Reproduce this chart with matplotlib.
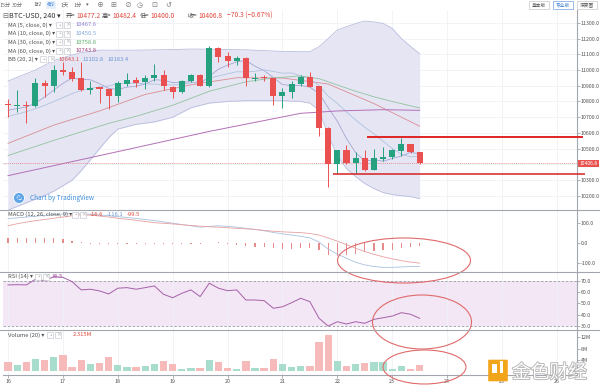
import numpy as np
import matplotlib.pyplot as plt
from matplotlib.patches import Rectangle, Ellipse, FancyBboxPatch, Circle
import matplotlib.patheffects as pe

plt.rcParams['font.family'] = ['Noto Sans CJK SC', 'DejaVu Sans']

# BTC-USD, 4h candles from the 16th 00:00 to the 23rd 20:00
days = ['16', '17', '18', '19', '20', '21', '22', '23', '24', '25', '26']
opens = [10785, 10772, 10780, 10774, 10916, 10900, 11002, 10985, 10948, 10870,
         10890, 10878, 10832, 10912, 10937, 10921, 10950, 10971, 10895, 10863,
         10927, 10971, 10901, 11140, 11086, 11055, 11075, 10944, 10958, 10948,
         10835, 10858, 10911, 10954, 10897, 10631, 10404, 10489, 10408, 10443,
         10368, 10436, 10447, 10485, 10527, 10477.2]
highs = [10816, 10873, 10801, 10948, 10937, 11030, 11050, 11020, 11050, 10927,
         10895, 10880, 10927, 10980, 10954, 10969, 11037, 10997, 10900, 10937,
         10975, 10975, 11155, 11148, 11113, 11086, 11080, 10980, 10969, 10952,
         10884, 10927, 10969, 10990, 10900, 10635, 10492, 10521, 10478, 10494,
         10500, 10510, 10500, 10567, 10530, 10482.4]
lows = [10699, 10736, 10661, 10765, 10831, 10863, 10968, 10930, 10865, 10848,
        10790, 10750, 10795, 10901, 10895, 10880, 10930, 10873, 10820, 10852,
        10925, 10898, 10895, 11050, 11018, 11032, 10901, 10930, 10927, 10778,
        10757, 10820, 10901, 10890, 10578, 10260, 10345, 10405, 10345, 10357,
        10362, 10425, 10436, 10451, 10470, 10400.0]
closes = [10775, 10778, 10772, 10916, 10900, 11000, 10985, 10945, 10870, 10888,
          10878, 10835, 10916, 10937, 10920, 10948, 10971, 10898, 10863, 10927,
          10971, 10901, 11140, 11085, 11058, 11075, 10948, 10952, 10948, 10835,
          10858, 10911, 10958, 10895, 10631, 10404, 10489, 10408, 10443, 10366,
          10443, 10447, 10489, 10527, 10477.2, 10406.8]
volume_m = [3.2, 2.3, 3.2, 4.3, 4.0, 5.2, 5.9, 1.7, 4.0, 2.7, 3.0, 4.9, 2.3, 1.4, 1.4,
            1.9, 2.7, 3.7, 2.7, 0.9, 1.3, 1.3, 4.0, 3.3, 1.2, 0.7, 3.7, 1.3, 1.3, 4.4,
            2.7, 1.7, 2.0, 2.0, 10.4, 12.7, 3.7, 2.0, 2.7, 3.1, 3.2, 3.4, 1.0, 2.0,
            1.0, 2.315]

ma5 = [10745, 10755, 10765, 10790, 10828, 10873, 10915, 10949, 10940, 10938,
       10913, 10883, 10877, 10891, 10897, 10911, 10938, 10935, 10920, 10921,
       10926, 10912, 10960, 11005, 11031, 11052, 11061, 11024, 10996, 10952,
       10908, 10901, 10902, 10891, 10851, 10760, 10675, 10565, 10475, 10422,
       10430, 10421, 10438, 10454, 10477, 10467.6]
ma10 = [10705, 10720, 10735, 10755, 10775, 10800, 10825, 10850, 10870, 10883,
        10893, 10899, 10913, 10915, 10917, 10912, 10911, 10906, 10905, 10909,
        10919, 10925, 10948, 10962, 10976, 10989, 10987, 10992, 11001, 10991,
        10980, 10981, 10963, 10944, 10901, 10834, 10788, 10734, 10683, 10636,
        10595, 10548, 10502, 10465, 10449, 10450.5]
ma30_x = [0, 5, 11, 14, 18, 22, 26, 29, 32, 34, 36, 38, 40, 42, 45]
ma30 = [10457, 10553, 10661, 10706, 10776, 10865, 10925, 10950, 10962, 10945,
        10905, 10865, 10830, 10800, 10758.8]
ma60_x = [0, 11, 22, 32, 36, 41, 45]
ma60 = [10329, 10469, 10610, 10725, 10740, 10748, 10743.8]

bb_mid_x = [0, 5, 10, 15, 20, 25, 30, 35, 40, 45]
bb_mid = [10534, 10650, 10740, 10845, 10906, 10951, 10949, 10911, 10787, 10643.1]
bb_x = [0, 3, 5, 7, 8, 9, 10, 11, 12, 14, 16, 18, 20, 22, 24, 26, 30, 32, 33, 34,
        35, 36, 37, 38, 39, 40, 41, 42, 43, 44, 45]
bb_up = [10930, 11000, 11060, 11095, 11110, 11118, 11126, 11126, 11126, 11126,
         11128, 11130, 11133, 11132, 11130, 11128, 11118, 11116, 11116, 11148,
         11200, 11254, 11275, 11295, 11311, 11305, 11296, 11264, 11200, 11150, 11102.8]
bb_lo = [10110, 10180, 10230, 10300, 10360, 10430, 10500, 10570, 10625, 10655,
         10670, 10700, 10760, 10790, 10800, 10805, 10805, 10800, 10790, 10744,
         10585, 10457, 10374, 10323, 10279, 10247, 10222, 10209, 10202, 10196, 10183.4]

macd = [120, 124, 128, 132, 136, 140, 143, 145, 144, 142, 138, 134, 130, 126, 121,
        116, 110, 104, 98, 91, 85, 78, 82, 85, 82, 78, 72, 67, 60, 52, 45, 39, 33,
        25, 5, -30, -55, -75, -95, -108, -116, -120, -120, -118, -116, -116.1]
signal = [85, 95, 103, 110, 116, 122, 128, 134, 139, 137, 133, 128, 122, 117, 112,
          106, 100, 97, 94, 90, 86, 83, 80, 78, 75, 72, 70, 67, 62, 58, 55, 53, 51,
          47, 39, 25, 9, -8, -26, -42, -56, -68, -78, -87, -94, -99.5]
hist = [25, 26, 25, 27, 25, 24, 22, 12, 4, -3, -4, -4, -3, -3, -4, -4, -3, -3, -4,
        -4, -3, -3, 2, 3, -3, -8, -15, -20, -22, -25, -30, -30, -25, -25, -33, -60,
        -65, -58, -52, -45, -40, -36, -33, -25, -21, -16.6]
rsi = [66.3, 66.5, 66.3, 71.3, 70.0, 73.6, 73.0, 69.2, 61.9, 62.5, 61.0, 58.3,
       63.4, 63.9, 62.5, 63.9, 65.4, 58.0, 55.0, 58.9, 61.9, 56.0, 67.8, 63.4,
       61.2, 61.9, 53.0, 53.0, 52.4, 45.7, 47.0, 50.6, 54.5, 51.5, 36.8, 30.0,
       33.8, 31.8, 33.8, 32.4, 35.9, 37.3, 38.8, 41.8, 40.4, 36.8]

resist_level, resist_from = 10574, 39.2
support_level, support_from = 10341, 35.5

GREEN = '#26A17F'
RED = '#EA5050'
VGREEN = '#A8DCCD'
VRED = '#F6BABA'
AXC = '#A3A6AE'
TXT = '#505050'
GRID = '#F0F1F5'
TICK_FS = 3.8

W, H = 600, 387
fig = plt.figure(figsize=(6, 3.87), dpi=100)


def pane(top, bottom, z):
    return fig.add_axes([3 / W, 1 - bottom / H, 574 / W, (bottom - top) / H],
                        zorder=z, facecolor='none')


ax_p = pane(10, 210, 4)
ax_m = pane(210, 272, 3)
ax_r = pane(272, 330, 2)
ax_v = pane(330, 375, 1)

x = np.arange(len(closes))
o = np.array(opens)
c = np.array(closes)
up = c >= o
day_idx = np.arange(len(days)) * 6

for a in (ax_p, ax_m, ax_r, ax_v):
    a.set_xlim(-0.55, 62.2)
    for s in ('top', 'left', 'bottom'):
        a.spines[s].set_visible(False)
    a.spines['right'].set_color(AXC)
    a.spines['right'].set_linewidth(0.8)
    a.yaxis.tick_right()
    a.tick_params(axis='y', length=2, width=0.6, color=AXC, labelsize=TICK_FS,
                  labelcolor=TXT, pad=0.8)
    a.set_xticks(day_idx)
    a.grid(axis='x', color=GRID, lw=0.6)
    a.tick_params(axis='x', length=0, labelbottom=False)
    a.set_axisbelow(True)

# price pane
ax_p.set_ylim(10111, 11381)
pt = np.arange(10200, 11301, 100)
ax_p.set_yticks(pt)
# the 10400 label sits under the last-price tag
ax_p.set_yticklabels(['' if v == 10400 else f'{v}.0' for v in pt])
ax_p.grid(axis='y', color=GRID, lw=0.6)
ax_p.fill_between(bb_x, bb_lo, bb_up, color='#E5E5F4', lw=0, zorder=1)
ax_p.plot(bb_x, bb_up, color='#B7BDDD', lw=0.6, zorder=2)
ax_p.plot(bb_x, bb_lo, color='#B7BDDD', lw=0.6, zorder=2)
ax_p.plot(bb_mid_x, bb_mid, color='#DA8E92', lw=0.6, zorder=2)
ax_p.plot(x, ma5, color='#A4A6D2', lw=0.6, zorder=2)
ax_p.plot(x, ma10, color='#AFC3DF', lw=0.6, zorder=2)
ax_p.plot(ma30_x, ma30, color='#93C2A0', lw=0.6, zorder=2)
ax_p.plot(ma60_x, ma60, color='#B46FB8', lw=0.7, zorder=2)
ax_p.axhline(closes[-1], color='#E57373', lw=0.5, ls=(0, (1.5, 1.5)), zorder=2)

ccol = np.where(up, GREEN, RED)
ax_p.vlines(x, lows, highs, color=ccol, lw=0.7, zorder=3)
ax_p.bar(x, np.maximum(np.abs(c - o), 5), bottom=np.minimum(o, c), width=0.66,
         color=ccol, lw=0, zorder=4)

ax_p.hlines(resist_level, resist_from, 62.85, color='#E02424', lw=1.4, zorder=5,
            clip_on=False)
ax_p.hlines(support_level, support_from, 63.1, color='#D62020', lw=1.1, zorder=5,
            clip_on=False)
ax_p.text(1.004, closes[-1], f'{closes[-1]:.1f}', transform=ax_p.get_yaxis_transform(),
          ha='left', va='center', fontsize=3.6, color='white', zorder=6,
          bbox=dict(boxstyle='square,pad=0.25', fc='#E9534F', ec='none'))

# MACD pane
ax_m.set_ylim(-142.9, 162.6)
ax_m.set_yticks([100, 0, -100])
ax_m.set_yticklabels(['100.0', '0.0', '-100.0'])
ax_m.bar(x, hist, width=0.13, color='#E68A8A', lw=0, zorder=2)
ax_m.plot(x, macd, color='#A9C1E0', lw=0.6, zorder=3)
ax_m.plot(x, signal, color='#E8A0A0', lw=0.6, zorder=3)

# RSI pane
ax_r.set_ylim(26.5, 77.7)
ax_r.set_yticks([70, 60, 50, 40, 30])
ax_r.set_yticklabels(['70.0', '60.0', '50.0', '40.0', '30.0'])
ax_r.axhspan(30, 70, color='#F3E6F5', lw=0, zorder=0)
for lv in (70, 30):
    ax_r.axhline(lv, color='#9A9CA6', lw=0.6, ls=(0, (3, 2)), zorder=1)
ax_r.plot(x, rsi, color='#A560A8', lw=0.7, zorder=3)

# volume pane
ax_v.set_ylim(-1.29, 14.57)
ax_v.set_yticks([12, 8, 4])
ax_v.set_yticklabels(['12M', '8M', '4M'])
ax_v.bar(x, volume_m, width=0.8, color=np.where(up, VGREEN, VRED), lw=0, zorder=2)
ax_v.spines['bottom'].set_visible(True)
ax_v.spines['bottom'].set_color(AXC)
ax_v.spines['bottom'].set_linewidth(0.8)
ax_v.set_xticklabels(days)
ax_v.tick_params(axis='x', length=2, width=0.6, color=AXC, labelbottom=True,
                 labelsize=TICK_FS, labelcolor=TXT, pad=1)

# overlay in pixel units for the chart chrome and hand drawn marks
ov = fig.add_axes([0, 0, 1, 1], zorder=10, facecolor='none')
ov.set_xlim(0, W)
ov.set_ylim(H, 0)
ov.axis('off')
rend = fig.canvas.get_renderer()


def t(xp, yp, s, size=4.2, color=TXT, ha='left', **kw):
    return ov.text(xp, yp, s, fontsize=size, color=color, va='center', ha=ha, **kw)


def right_of(txt):
    bb = txt.get_window_extent(renderer=rend)
    return ov.transData.inverted().transform((bb.x1, bb.y0))[0]


def values_row(xp, yp, items, gap=3.5):
    for s, col in items:
        xp = right_of(t(xp, yp, s, color=col)) + gap


def icons(xp, yp):
    for dx in (0, 8):
        ov.add_patch(Rectangle((xp + dx, yp - 3), 6, 6, fc='white', ec='#C9CCD4', lw=0.5))
    t(xp + 1.3, yp, '◦', size=3.5, color='#9A9A9A')
    t(xp + 9.4, yp, '×', size=3.5, color='#9A9A9A')


for yl in (210, 272, 330):
    ov.plot([0, W], [yl, yl], color=AXC, lw=0.8)

# toolbar
for xp, s in [(-1, '15分'), (12, '30分'), (33, '1时'), (60, '1天'), (73, '1分'), (86, '▾')]:
    t(xp, 5, s, size=3.8, color='#666666')
ov.add_patch(FancyBboxPatch((46.5, 1.5), 9, 7, boxstyle='round,pad=0.3', fc='#E3EEFB', ec='none'))
t(47, 5, '4时', size=3.8, color='#3D7FD1')
for xp, s in [(96, '⊕'), (110, '⊞'), (124, '⊘'), (137, '◷'), (151, '⊡'), (165, '↺')]:
    t(xp, 5, s, size=5, color='#7A7A7A')
for xp, s, ec, col in [(529, '基本版', '#C8C8C8', '#555555'), (553, '专业版', '#6FA3E0', '#3D7FD1'),
                       (577, '深度图', '#C8C8C8', '#555555')]:
    ov.add_patch(Rectangle((xp, 1), 20, 8, fc='white', ec=ec, lw=0.5))
    t(xp + 10, 5, s, size=3.4, color=col, ha='center')

# header
t(2, 16, '⊟', size=5, color='#666666')
t(9, 16, 'BTC-USD, 240 ▾', size=5.2, color='#333333')
for xp, lab, val in [(66, '开=', '10477.2'), (102, '高=', '10482.4'), (140, '低=', '10400.0'),
                     (188, '收=', '10406.8')]:
    lt = t(xp, 16, lab, size=4.4, color='#444444')
    t(right_of(lt) + 0.8, 16, val, size=4.8, color='#E0483F')
t(227, 16, '−70.3 (−0.67%)', size=4.8, color='#E0483F')

# indicator legends
rows = [('MA (5, close, 0) ▾', '10467.6', '#8E7FD6'),
        ('MA (10, close, 0) ▾', '10450.5', '#7EA6DA'),
        ('MA (30, close, 0) ▾', '10758.8', '#5FAE6D'),
        ('MA (60, close, 0) ▾', '10743.8', '#9A3E7A')]
for k, (lab, val, col) in enumerate(rows):
    yp = 25 + k * 8.6
    t(8, yp, lab)
    icons(56, yp)
    t(75, yp, val, color=col)
t(8, 59.3, 'BB (20, 2) ▾')
icons(40, 59.3)
values_row(58, 59.3, [('10643.1', '#D9534F'), ('11102.8', '#6E96D2'), ('10183.4', '#6E96D2')])

t(8, 214.5, 'MACD (12, 26, close, 9) ▾')
icons(72, 214.5)
values_row(90, 214.5, [('-16.6', '#E0483F'), ('-116.1', '#6E96D2'), ('-99.5', '#E0483F')])

t(8, 276.5, 'RSI (14) ▾')
icons(35, 276.5)
t(52, 276.5, '36.5', color='#9C4FA0')

t(8, 335, 'Volume (20) ▾')
icons(47, 335)
t(73, 335, '2.315M', color='#E0483F')

# TradingView badge
ov.add_patch(Circle((19, 198), 5.5, fc='#5EA6E8', ec='white', lw=0.6))
t(15.5, 198, '☁', size=4.5, color='white')
t(30, 198, 'Chart by TradingView', size=4.6, color='#3F8EDB')

# hand drawn ellipses
for cx, cy, ew, eh in [(404, 260.5, 133, 45), (422, 322, 99, 54), (424.5, 367, 83, 34)]:
    ov.add_patch(Ellipse((cx, cy), ew, eh, fill=False, ec='#E06A6A', lw=0.8))

# watermark
ov.add_patch(FancyBboxPatch((489, 360.5), 18, 20, boxstyle='round,pad=0.8', fc='#F2A51A', ec='none'))
ov.add_patch(Rectangle((492, 363.5), 5, 9, fc='white', ec='none'))
ov.add_patch(Rectangle((500, 360.5), 3, 12, fc='white', ec='none'))
ov.text(512, 372.5, '金色财经', fontsize=13.5, color='white', va='center', ha='left',
        family=['Noto Sans CJK SC'],
        path_effects=[pe.withStroke(linewidth=1.3, foreground='#B4B4B4')])

fig.savefig('out.png', dpi=100)
